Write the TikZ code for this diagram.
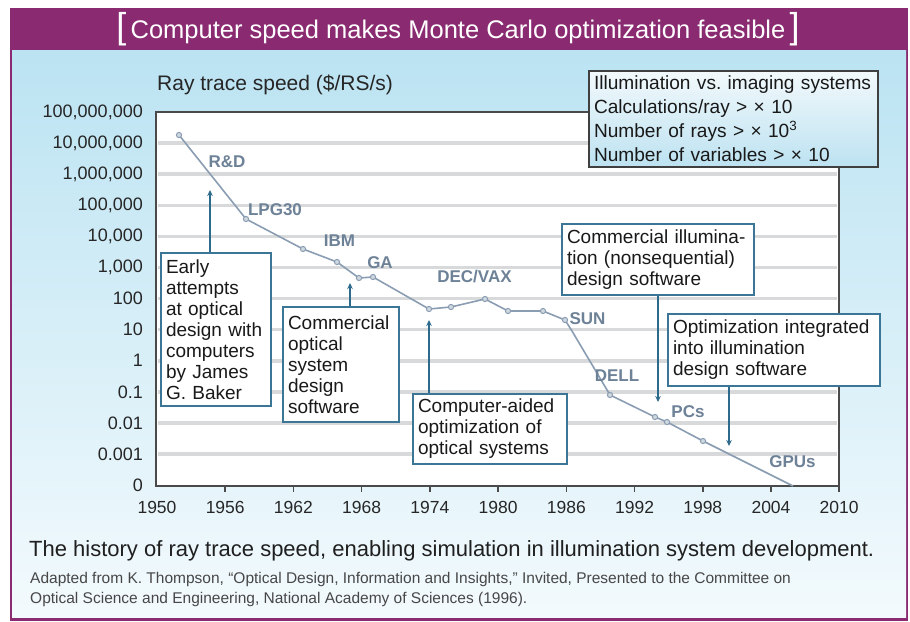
\documentclass[tikz,border=0pt]{standalone}
\usepackage{fontspec}
\setmainfont{Liberation Sans}
\usetikzlibrary{arrows.meta,calc}
\definecolor{purp}{HTML}{8A2B72}
\definecolor{bgtop}{HTML}{BBE3F2}
\definecolor{bgbot}{HTML}{F3FAFD}
\definecolor{boxedge}{HTML}{3B7696}
\definecolor{arrc}{HTML}{2E6A8C}
\definecolor{curvec}{HTML}{8A9DB2}
\definecolor{lblc}{HTML}{6D8197}
\definecolor{gridc}{HTML}{D8D9DA}
\definecolor{axisc}{HTML}{4A4A4A}
\definecolor{legtop}{HTML}{F2F9FC}
\definecolor{legbot}{HTML}{BDE2F1}
\newcommand{\fsz}[2]{\fontsize{#1}{#2}\selectfont}
\frenchspacing
\tikzset{
  annot/.style={draw=boxedge, line width=1.2pt, fill=white, align=left,
    inner xsep=5pt, inner ysep=0pt, font=\fsz{19}{21}, text=black!90},
  ylab/.style={anchor=east, font=\fsz{18}{20}, text=black!85, inner sep=0pt},
  xlab/.style={font=\fsz{17.5}{20}, text=black!85, inner sep=0pt},
  clab/.style={font=\fsz{17}{20}\bfseries, text=lblc, inner sep=0pt},
  arr/.style={draw=arrc, line width=1.8pt, -{Stealth[length=6pt,width=5.5pt]}},
  gridline/.style={draw=gridc, line width=3.5pt},
  axisline/.style={draw=axisc, line width=1.6pt},
  curve/.style={draw=curvec, line width=1.6pt, line join=round},
  marker/.style={draw=curvec, line width=1pt, fill=curvec!40}
}
\begin{document}
\frenchspacing
\begin{tikzpicture}[x=1pt,y=-1pt]
\useasboundingbox (0,0) rectangle (910,621);
\fill[white] (0,0) rectangle (910,621);
% frame
\fill[purp] (10,8) rectangle (908,621);
\shade[top color=bgtop,bottom color=bgbot] (12,50) rectangle (906,617);
% title
\node[text=white, font=\fsz{25.5}{30}, inner sep=0pt] (title) at (458,29)
  {{\fsz{36}{36}[}\,Computer speed makes Monte Carlo optimization feasible\,{\fsz{36}{36}]}};
% axis title
\node[anchor=west, font=\fsz{21}{24}, text=black!85, inner sep=0pt] (ytitle) at (157,85) {Ray trace speed (\$/RS/s)};
% plot area
\fill[white] (156,112) rectangle (839,486);
\foreach \L in {7,6,...,-3}
  \draw[gridline] (158,{112+(8-\L)*31.1}) -- (837,{112+(8-\L)*31.1});
\draw[axisline] (156,486) -- (156,112) -- (839,112) -- (839,486) -- cycle;
\foreach \yr in {1956,1962,...,2010}
  \draw[axisline] ({157+(\yr-1950)*11.37},486) -- ({157+(\yr-1950)*11.37},492);
% y labels
\node[ylab] (yl8) at (143,112) {100,000,000};
\node[ylab] (yl7) at (143,143.1) {10,000,000};
\node[ylab] (yl6) at (143,174.2) {1,000,000};
\node[ylab] (yl5) at (143,205.3) {100,000};
\node[ylab] (yl4) at (143,236.4) {10,000};
\node[ylab] (yl3) at (143,267.5) {1,000};
\node[ylab] (yl2) at (143,298.6) {100};
\node[ylab] (yl1) at (143,329.7) {10};
\node[ylab] (yl0) at (143,360.8) {1};
\node[ylab] (ylm1) at (143,391.9) {0.1};
\node[ylab] (ylm2) at (143,423.0) {0.01};
\node[ylab] (ylm3) at (143,454.1) {0.001};
\node[ylab] (ylm4) at (143,485.2) {0};
% x labels
\foreach \yr in {1950,1956,...,2010}
  \node[xlab] (x\yr) at ({157+(\yr-1950)*11.37},507) {\yr};
% curve
\draw[curve] plot coordinates {(179,135) (246,219) (303,249) (337,262) (359,278) (373,277)
  (429,309) (451,307) (485,299) (508,311) (543,311) (565,320) (572,331) (610,395)
  (655,417) (667,422) (703,441) (793,486)};
\foreach \p in {(179,135),(246,219),(303,249),(337,262),(359,278),(373,277),(429,309),
  (451,307),(485,299),(508,311),(543,311),(565,320),(610,395),(655,417),(667,422),(703,441)}
  \draw[marker] \p circle (2.6);
% curve labels
\node[clab] (rd) at (227,162) {R\&D};
\node[clab] (lpg) at (275,210) {LPG30};
\node[clab] (ibm) at (339.5,241) {IBM};
\node[clab] (ga) at (380,263) {GA};
\node[clab] (dec) at (474.5,277) {DEC/VAX};
\node[clab] (sun) at (587.5,319) {SUN};
\node[clab] (dell) at (617,376) {DELL};
\node[clab] (pcs) at (688,412) {PCs};
\node[clab] (gpus) at (792.5,462) {GPUs};
% legend box
\node[draw=black!75, line width=1.2pt, top color=legtop, bottom color=legbot,
  align=left, inner xsep=5pt, inner ysep=0pt, text width=279pt,
  minimum height=96pt, font=\fsz{19.1}{24}, text=black!90] (legend) at (733.5,119)
  {\mbox{Illumination vs.\ imaging systems}\\Calculations/ray > × 10\\Number of rays > × 10\textsuperscript{3}\\Number of variables > × 10};
% annotation boxes
\node[annot, text width=100pt, minimum height=153pt] (early) at (216,329.5)
  {Early\\attempts\\at optical\\design with\\computers\\by James\\G. Baker};
\node[annot, text width=106pt, minimum height=115pt] (cosd) at (341,364.5)
  {Commercial\\optical\\system\\design\\software};
\node[annot, text width=144pt, minimum height=70pt] (caoos) at (490,429)
  {Computer-aided\\optimization of\\optical systems};
\node[annot, text width=182pt, minimum height=71pt] (cid) at (658,259.5)
  {Commercial illumina-\\tion (nonsequential)\\design software};
\node[annot, text width=202pt, minimum height=72pt] (oiid) at (774,350)
  {Optimization integrated\\into illumination\\design software};
% arrows
\coordinate (t1) at (210,190);
\coordinate (t2) at (350,283);
\coordinate (t3) at (429,320);
\coordinate (t4) at (658,402);
\coordinate (t5) at (729,446);
\draw[arr] (early.north -| t1) -- (t1);
\draw[arr] (cosd.north -| t2) -- (t2);
\draw[arr] (caoos.north -| t3) -- (t3);
\draw[arr] (cid.south -| t4) -- (t4);
\draw[arr] (oiid.south -| t5) -- (t5);
% caption
\node[anchor=base west, font=\fsz{22}{26}, text=black!88, inner sep=0pt] (cap) at (29,556)
  {The history of ray trace speed, enabling simulation in illumination system development.};
\node[anchor=base west, font=\fsz{15.5}{20}, text=black!72, inner sep=0pt] (cred1) at (30,583)
  {Adapted from K. Thompson, “Optical Design, Information and Insights,” Invited, Presented to the Committee on};
\node[anchor=base west, font=\fsz{15.5}{20}, text=black!72, inner sep=0pt] (cred2) at (30,603)
  {Optical Science and Engineering, National Academy of Sciences (1996).};
\end{tikzpicture}
\end{document}
